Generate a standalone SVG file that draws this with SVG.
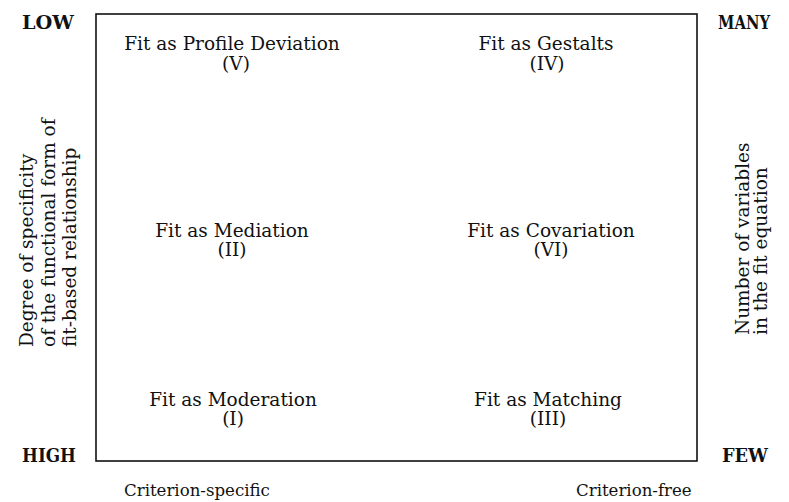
<svg xmlns="http://www.w3.org/2000/svg" width="789" height="502" viewBox="0 0 789 502">
  <style>
    text { font-family: "DejaVu Serif", "Liberation Serif", serif; fill: #111; }
    .lbl { font-size: 18.5px; text-anchor: middle; }
    .end { font-size: 18px; font-weight: bold; }
    .axis { font-size: 18.5px; }
    .foot { font-size: 16.6px; }
    .frame { fill: none; stroke: #111; stroke-width: 1.6; }
  </style>

  <!-- frame of the typology -->
  <rect class="frame" x="96" y="14" width="601" height="447"/>

  <!-- corner anchors -->
  <text class="end" x="22" y="29" textLength="52" lengthAdjust="spacingAndGlyphs">LOW</text>
  <text class="end" x="22" y="462" textLength="54" lengthAdjust="spacingAndGlyphs">HIGH</text>
  <text class="end" x="718" y="29" textLength="52" lengthAdjust="spacingAndGlyphs">MANY</text>
  <text class="end" x="722" y="462" textLength="46" lengthAdjust="spacingAndGlyphs">FEW</text>

  <!-- cells -->
  <g id="profile-deviation">
    <text class="lbl" x="232" y="50">Fit as Profile Deviation</text>
    <text class="lbl" x="236" y="70">(V)</text>
  </g>
  <g id="gestalts">
    <text class="lbl" x="546" y="50">Fit as Gestalts</text>
    <text class="lbl" x="547" y="70">(IV)</text>
  </g>
  <g id="mediation">
    <text class="lbl" x="232" y="237">Fit as Mediation</text>
    <text class="lbl" x="232" y="256">(II)</text>
  </g>
  <g id="covariation">
    <text class="lbl" x="551" y="237">Fit as Covariation</text>
    <text class="lbl" x="551" y="256">(VI)</text>
  </g>
  <g id="moderation">
    <text class="lbl" x="233" y="406">Fit as Moderation</text>
    <text class="lbl" x="233" y="425">(I)</text>
  </g>
  <g id="matching">
    <text class="lbl" x="548" y="406">Fit as Matching</text>
    <text class="lbl" x="548" y="425">(III)</text>
  </g>

  <!-- horizontal axis ends -->
  <text class="foot" x="124" y="496">Criterion-specific</text>
  <text class="foot" x="576" y="496">Criterion-free</text>

  <!-- vertical axis titles -->
  <g transform="translate(0,347) rotate(-90)">
    <text class="axis" x="0" y="33">Degree of specificity</text>
    <text class="axis" x="0" y="55">of the functional form of</text>
    <text class="axis" x="0" y="76">fit-based relationship</text>
  </g>
  <g transform="translate(0,335) rotate(-90)">
    <text class="axis" x="0" y="749">Number of variables</text>
    <text class="axis" x="0" y="767">in the fit equation</text>
  </g>
</svg>
